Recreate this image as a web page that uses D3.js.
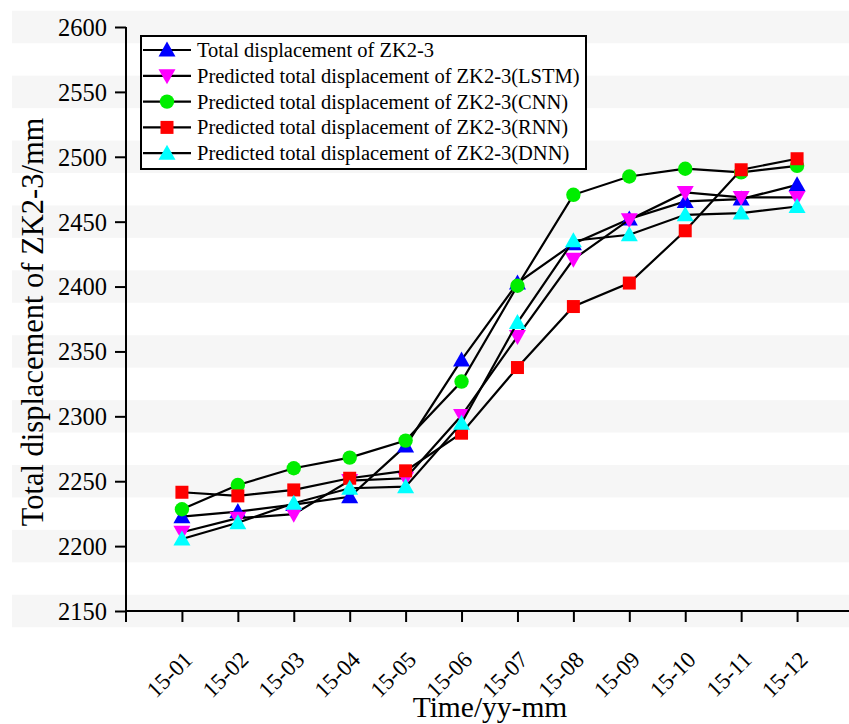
<!DOCTYPE html>
<html>
<head>
<meta charset="utf-8">
<script src="https://cdn.jsdelivr.net/npm/d3@7"></script>
<style>
  html, body { margin: 0; padding: 0; background: #ffffff; }
  svg { display: block; }
  svg text { font-family: "Liberation Serif", "Times New Roman", serif; }
</style>
</head>
<body>
<svg id="chart" width="849" height="724"></svg>
<script>
const categories = ["15-01","15-02","15-03","15-04","15-05","15-06","15-07","15-08","15-09","15-10","15-11","15-12"];
const actual = [2222.7, 2226.6, 2232, 2238, 2277.2, 2343.5, 2402.7, 2433, 2452, 2465.6, 2467.4, 2478.4];
const lstm   = [2210.7, 2221.5, 2224.6, 2250.5, 2252.3, 2300.6, 2361.5, 2421, 2451.5, 2472.5, 2468.7, 2468.7];
const cnn    = [2228.4, 2247.1, 2260, 2268.2, 2281.3, 2326.8, 2400.6, 2470.7, 2484.8, 2490.8, 2488, 2493];
const rnn    = [2241.5, 2238.7, 2243.3, 2252.3, 2258, 2287, 2337.6, 2384.6, 2402.7, 2443, 2490, 2498.5];
const dnn    = [2205.5, 2218, 2233, 2244.6, 2245.8, 2294.7, 2372.3, 2435.3, 2439.9, 2455.3, 2456.6, 2461.7];
const seriesNames = [
  "Total displacement of ZK2-3",
  "Predicted total displacement of ZK2-3(LSTM)",
  "Predicted total displacement of ZK2-3(CNN)",
  "Predicted total displacement of ZK2-3(RNN)",
  "Predicted total displacement of ZK2-3(DNN)"
];
const yTicks = [2150, 2200, 2250, 2300, 2350, 2400, 2450, 2500, 2550, 2600];
const xTitle = "Time/yy-mm";
const yTitle = "Total displacement of ZK2-3/mm";

const seriesValues = [actual, lstm, cnn, rnn, dnn];
const seriesColors = ["#0000ff", "#ff00ff", "#00ee00", "#ff0000", "#00ffff"];
const seriesShapes = ["up", "down", "circle", "square", "up"];

const svg = d3.select("#chart");
const pLeft = 126, pRight = 853, pTop = 27, pBottom = 611;

const x = d3.scalePoint().domain(categories).range([pLeft, pRight]).padding(1);
const y = d3.scaleLinear().domain([2150, 2600]).range([pBottom, pTop]);

// faint background bands
svg.append("g").selectAll("rect").data(yTicks).join("rect")
  .attr("x", 12).attr("width", 849 - 12)
  .attr("y", d => y(d + 12.5)).attr("height", d => y(d - 12.5) - y(d + 12.5))
  .attr("fill", "#f6f6f6");

function shapePath(shape) {
  if (shape === "up") return "M0,-8.5L8.5,6.5L-8.5,6.5Z";
  if (shape === "down") return "M0,8.5L8.5,-6.5L-8.5,-6.5Z";
  if (shape === "square") return "M-6.5,-6.5H6.5V6.5H-6.5Z";
  return d3.symbol().type(d3.symbolCircle).size(Math.PI * 7.2 * 7.2)();
}

// Y axis
const yAxis = d3.axisLeft(y).tickValues(yTicks).tickSize(11).tickPadding(8).tickFormat(d3.format("d"));
const gy = svg.append("g").attr("transform", `translate(${pLeft},0)`).call(yAxis);
gy.attr("font-family", null);
gy.select(".domain").attr("stroke", "#000").attr("stroke-width", 2).attr("d", `M0,${pTop}V${pBottom}`);
gy.selectAll(".tick line").attr("stroke", "#000").attr("stroke-width", 2);
gy.selectAll(".tick text").attr("font-size", 24.5).attr("fill", "#000").attr("dy", "0.34em");

// X axis
const xAxis = d3.axisBottom(x).tickSize(11).tickFormat("");
const gx = svg.append("g").attr("transform", `translate(0,${pBottom})`).call(xAxis);
gx.select(".domain").attr("stroke", "#000").attr("stroke-width", 2).attr("d", `M${pLeft},0H${pRight}`);
gx.selectAll(".tick line").attr("stroke", "#000").attr("stroke-width", 2);
gx.append("line").attr("x1", pLeft).attr("x2", pLeft).attr("y1", 0).attr("y2", 11)
  .attr("stroke", "#000").attr("stroke-width", 2);

// X tick labels rotated
svg.append("g").selectAll("text").data(categories).join("text")
  .attr("transform", d => `translate(${x(d) + 12},${pBottom + 50}) rotate(-45)`)
  .attr("text-anchor", "end")
  .attr("font-size", 23)
  .attr("fill", "#000")
  .text(d => d);

// Axis titles
svg.append("text").attr("x", 490).attr("y", 717).attr("text-anchor", "middle")
  .attr("font-size", 29.5).attr("fill", "#000").text(xTitle);
svg.append("text").attr("transform", `translate(43,322) rotate(-90)`).attr("text-anchor", "middle")
  .attr("font-size", 30.5).attr("fill", "#000").text(yTitle);

// Series
const line = d3.line().x((d, i) => x(categories[i])).y(d => y(d));
seriesValues.forEach((vals, si) => {
  const g = svg.append("g");
  g.append("path").datum(vals).attr("d", line)
    .attr("fill", "none").attr("stroke", "#000").attr("stroke-width", 2.2);
  g.selectAll("path.m").data(vals).join("path").attr("class", "m")
    .attr("transform", (d, i) => `translate(${x(categories[i])},${y(d)})`)
    .attr("d", shapePath(seriesShapes[si]))
    .attr("fill", seriesColors[si]);
});

// Legend
const lg = svg.append("g");
lg.append("rect").attr("x", 141).attr("y", 36).attr("width", 445).attr("height", 133)
  .attr("fill", "#fff").attr("stroke", "#000").attr("stroke-width", 2);
seriesNames.forEach((name, i) => {
  const cy = 50 + i * 25.8;
  lg.append("line").attr("x1", 143).attr("x2", 191).attr("y1", cy).attr("y2", cy)
    .attr("stroke", "#000").attr("stroke-width", 2.2);
  lg.append("path").attr("transform", `translate(167,${cy})`)
    .attr("d", shapePath(seriesShapes[i])).attr("fill", seriesColors[i]);
  lg.append("text").attr("x", 197).attr("y", cy + 7).attr("font-size", 20.5)
    .attr("fill", "#000").text(name);
});
</script>
</body>
</html>
